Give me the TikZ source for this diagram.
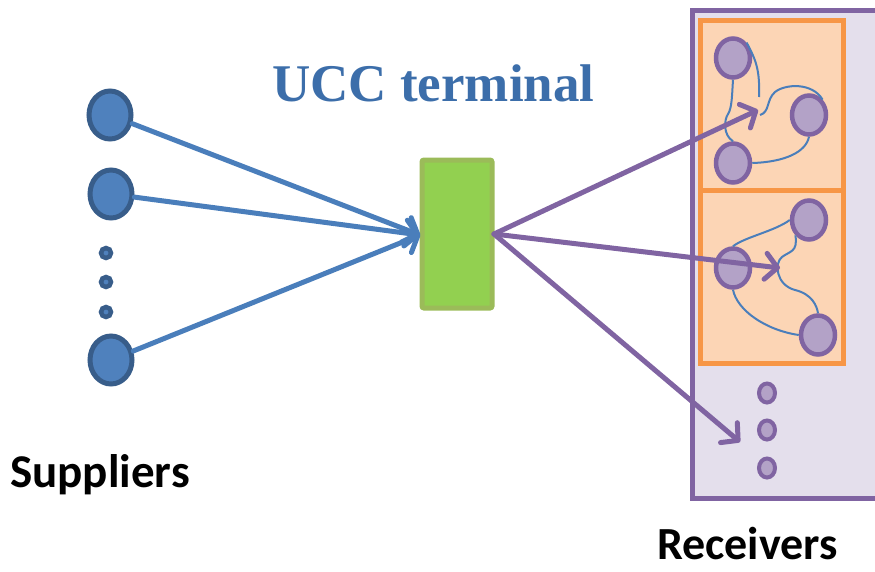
\documentclass[tikz,border=0pt]{standalone}
\usepackage{fontspec}
\newfontfamily\titlefont{Liberation Serif}
\newfontfamily\labelfont{Carlito}
\usetikzlibrary{shapes.geometric,arrows.meta}
\definecolor{supfill}{HTML}{4F81BD}
\definecolor{supline}{HTML}{385D8A}
\definecolor{bluearrow}{HTML}{4A7EBB}
\definecolor{titleblue}{HTML}{3C6EAA}
\definecolor{purp}{HTML}{8064A2}
\definecolor{recfill}{HTML}{B3A2C7}
\definecolor{panelfill}{HTML}{E4DFEC}
\definecolor{orfill}{HTML}{FCD5B5}
\definecolor{orline}{HTML}{F79646}
\definecolor{grfill}{HTML}{92D050}
\definecolor{grline}{HTML}{9BBB59}
\begin{document}
\begin{tikzpicture}[x=1pt,y=-1pt,
  supnode/.style={ellipse,draw=supline,fill=supfill,line width=5pt,minimum width=42pt,minimum height=48pt,inner sep=0pt},
  supdot/.style={circle,draw=supline,fill=supfill,line width=4.5pt,minimum size=10pt,inner sep=0pt},
  recnode/.style={ellipse,draw=purp,fill=recfill,line width=4.5pt,minimum width=34pt,minimum height=39pt,inner sep=0pt},
  recdot/.style={ellipse,draw=purp,fill=recfill,line width=4pt,minimum width=16pt,minimum height=19pt,inner sep=0pt},
  barrow/.style={draw=bluearrow,line width=5pt,line cap=round,-{Straight Barb[length=12pt,width=26pt,line cap=round,line join=round]}},
  parrow/.style={draw=purp,line width=5pt,line cap=round,-{Straight Barb[length=12pt,width=26pt,line cap=round,line join=round]}},
  link/.style={draw=bluearrow,line width=2pt},
  orbox/.style={draw=orline,fill=orfill,line width=5pt}
]
\useasboundingbox (0,0) rectangle (875,571);

% receivers panel
\fill[panelfill] (692,10) rectangle (875,498);
\draw[purp,line width=5pt] (875,10) -- (692,10) -- (692,498) -- (875,498);

% orange boxes
\draw[orbox] (700,20) rectangle (843,190);
\draw[orbox] (700,190) rectangle (843,363);

% green terminal
\node (term) [draw=grline,fill=grfill,line width=5pt,rounded corners=2pt,minimum width=70pt,minimum height=148pt,inner sep=0pt] at (457,234) {};

% suppliers
\node (s1) [supnode] at (110,115) {};
\node (s2) [supnode] at (111,194) {};
\node (s3) [supnode] at (111,360) {};
\node (d1) [supdot] at (106,253) {};
\node (d2) [supdot] at (106,282) {};
\node (d3) [supdot] at (106,312) {};

% receivers box 1
\node (a1) [recnode] at (733,58) {};
\node (a2) [recnode] at (809,115) {};
\node (a3) [recnode] at (733,163) {};
% receivers box 2
\node (b1) [recnode] at (809,220) {};
\node (b2) [recnode] at (733,268) {};
\node (b3) [recnode] at (818,335) {};
% receiver dots
\node (e1) [recdot] at (767,393) {};
\node (e2) [recdot] at (767,430) {};
\node (e3) [recdot] at (767,468) {};

% thin links box 1
\draw[link] (a1.north east) .. controls (756,60) and (760,70) .. (759,97);
\draw[link] (a1.south) .. controls (732,95) and (732,108) .. (728,114) .. controls (724,120) and (723,135) .. (a3.north);
\draw[link] (760,115) .. controls (770,112) and (766,100) .. (775,92) .. controls (785,84) and (812,82) .. (a2.north east);
\draw[link] (a2.south) .. controls (806,152) and (785,162) .. (a3.east);
% thin links box 2
\draw[link] (b2.north) .. controls (745,237) and (775,231) .. (b1.west);
\draw[link] (b1.south west) .. controls (798,252) and (790,251) .. (782,257) .. controls (774,263) and (776,285) .. (795,290) .. controls (812,294) and (817,306) .. (b3.north);
\draw[link] (b2.south) .. controls (737,310) and (765,330) .. (b3.west);

% arrows
\coordinate (tin) at (420,235);
\coordinate (tout) at (494,234);
\coordinate (r1) at (758,110);
\coordinate (r2) at (780,268);
\coordinate (r3) at (740,442);
\draw[barrow] (s1) -- (tin);
\draw[barrow] (s2) -- (tin);
\draw[barrow] (s3) -- (tin);
\draw[parrow] (tout) -- (r1);
\draw[parrow] (tout) -- (r2);
\draw[parrow] (tout) -- (r3);

% labels
\node (title) [anchor=base west,inner sep=0pt,text=titleblue,font=\titlefont\bfseries\fontsize{53}{60}\selectfont] at (272,101) {UCC terminal};
\node (sup) [anchor=base west,inner sep=0pt,font=\labelfont\bfseries\fontsize{47}{56}\selectfont] at (10,487) {Suppliers};
\node (rec) [anchor=base west,inner sep=0pt,font=\labelfont\bfseries\fontsize{46}{56}\selectfont] at (657,559) {Receivers};
\end{tikzpicture}
\end{document}
